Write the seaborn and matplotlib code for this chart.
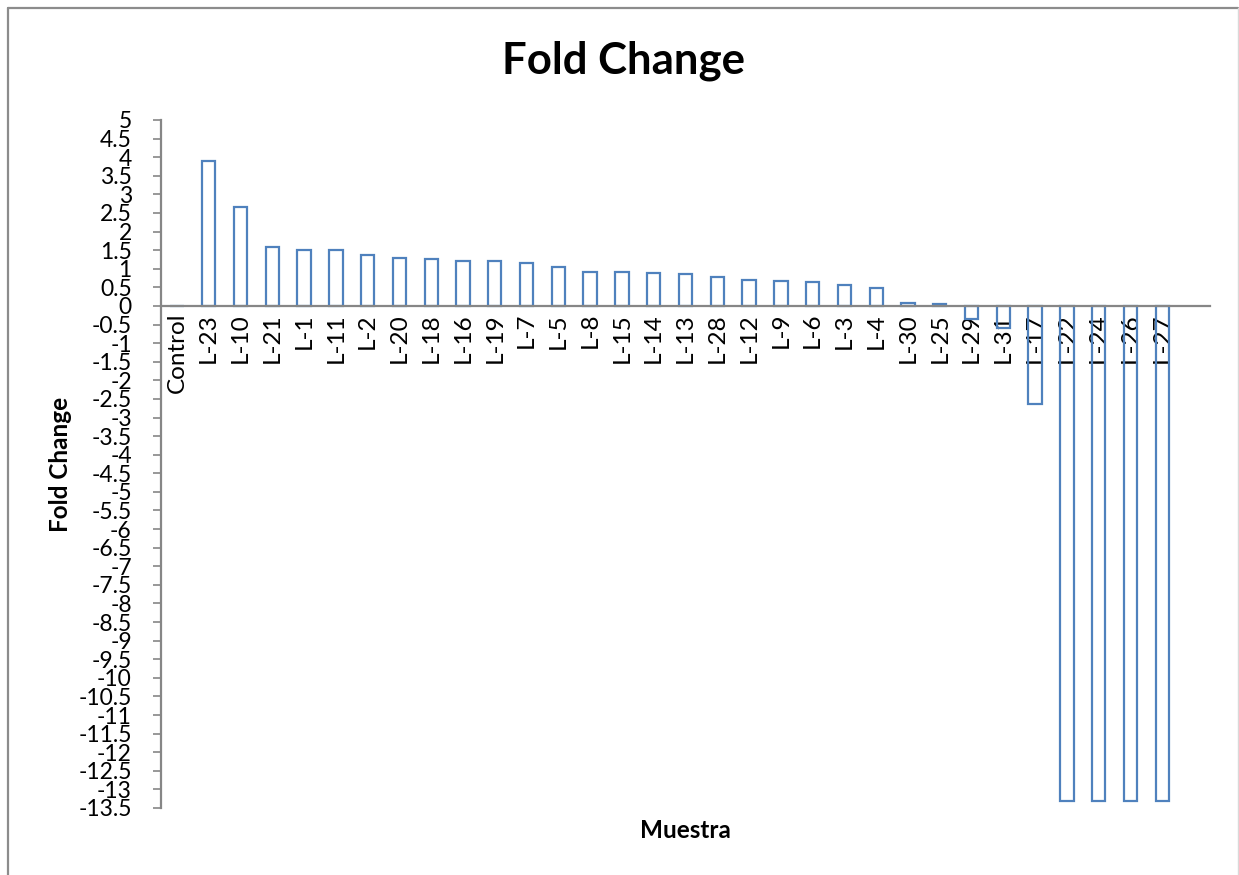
import numpy as np
import pandas as pd
import matplotlib
matplotlib.use("Agg")
import matplotlib.pyplot as plt
from matplotlib.lines import Line2D
import seaborn as sns

# Fold change per sample, sorted from highest to lowest
muestras = ["Control", "L-23", "L-10", "L-21", "L-1", "L-11", "L-2", "L-20", "L-18",
            "L-16", "L-19", "L-7", "L-5", "L-8", "L-15", "L-14", "L-13", "L-28",
            "L-12", "L-9", "L-6", "L-3", "L-4", "L-30", "L-25", "L-29", "L-31",
            "L-17", "L-22", "L-24", "L-26", "L-27"]
fold_change = [0.0, 3.90, 2.66, 1.59, 1.51, 1.51, 1.37, 1.28, 1.25,
               1.22, 1.20, 1.16, 1.06, 0.92, 0.90, 0.89, 0.87, 0.79,
               0.70, 0.66, 0.65, 0.57, 0.48, 0.08, 0.04, -0.34, -0.59,
               -2.64, -13.3, -13.3, -13.3, -13.3]
y_ticks = np.arange(-13.5, 5.01, 0.5)

df = pd.DataFrame({"Muestra": muestras, "Fold Change": fold_change})

sns.set_theme(style="white")
plt.rcParams["font.family"] = ["Lato", "DejaVu Sans"]

W, H = 1239, 875
fig = plt.figure(figsize=(W / 100, H / 100), dpi=100)
ax = fig.add_axes([161 / W, 1 - 808 / H, (1210 - 161) / W, (808 - 120) / H])

blue = "#4F81BD"
grey = "#868686"
sns.barplot(data=df, x="Muestra", y="Fold Change", order=muestras, fill=False,
            color=blue, linewidth=1.6, width=0.42, errorbar=None, ax=ax)
for p in ax.patches:
    p.set_edgecolor(blue)
    p.set_facecolor("none")

# one empty slot is left after the last sample
ax.set_xlim(-0.5, len(muestras) + 0.5)
ax.set_ylim(-13.5, 5)
ax.set_yticks(y_ticks)
ax.set_yticklabels([f"{v:g}" for v in y_ticks], fontsize=16.5)

# Category axis sits on the zero line
for s in ["top", "right"]:
    ax.spines[s].set_visible(False)
ax.spines["bottom"].set_position(("data", 0))
ax.spines["bottom"].set_color(grey)
ax.spines["bottom"].set_linewidth(1.6)
ax.spines["left"].set_color(grey)
ax.spines["left"].set_linewidth(1.6)

ax.tick_params(axis="y", direction="out", length=6, width=1.2, color=grey,
               pad=15, labelcolor="black", left=True)
ax.tick_params(axis="x", length=0, pad=5, labelsize=17.5, labelcolor="black",
               labelrotation=90)
for t in ax.get_xticklabels():
    t.set_va("top")
    t.set_ha("center")

ax.set_xlabel("Muestra", fontsize=17.5, fontweight="bold", color="black")
ax.xaxis.set_label_coords(0.5, -0.016)
ax.set_ylabel("Fold Change", fontsize=17.5, fontweight="bold", color="black")
ax.yaxis.set_label_coords(-0.085, 0.5)

fig.text(623 / W, 1 - 61 / H, "Fold Change", fontsize=31.5, fontweight="bold",
         ha="center", va="center", color="black")

# Chart area frame
fig.add_artist(Line2D([7.5 / W, 7.5 / W], [0, 1 - 7.5 / H], transform=fig.transFigure,
                      color="#8c8c8c", lw=1.6))
fig.add_artist(Line2D([7.5 / W, 1238 / W], [1 - 7.5 / H, 1 - 7.5 / H],
                      transform=fig.transFigure, color="#8c8c8c", lw=1.6))
fig.add_artist(Line2D([1238 / W, 1238 / W], [0, 1 - 7.5 / H], transform=fig.transFigure,
                      color="#d9d9d9", lw=1.0))

fig.savefig("out.png", dpi=100, facecolor="white")
